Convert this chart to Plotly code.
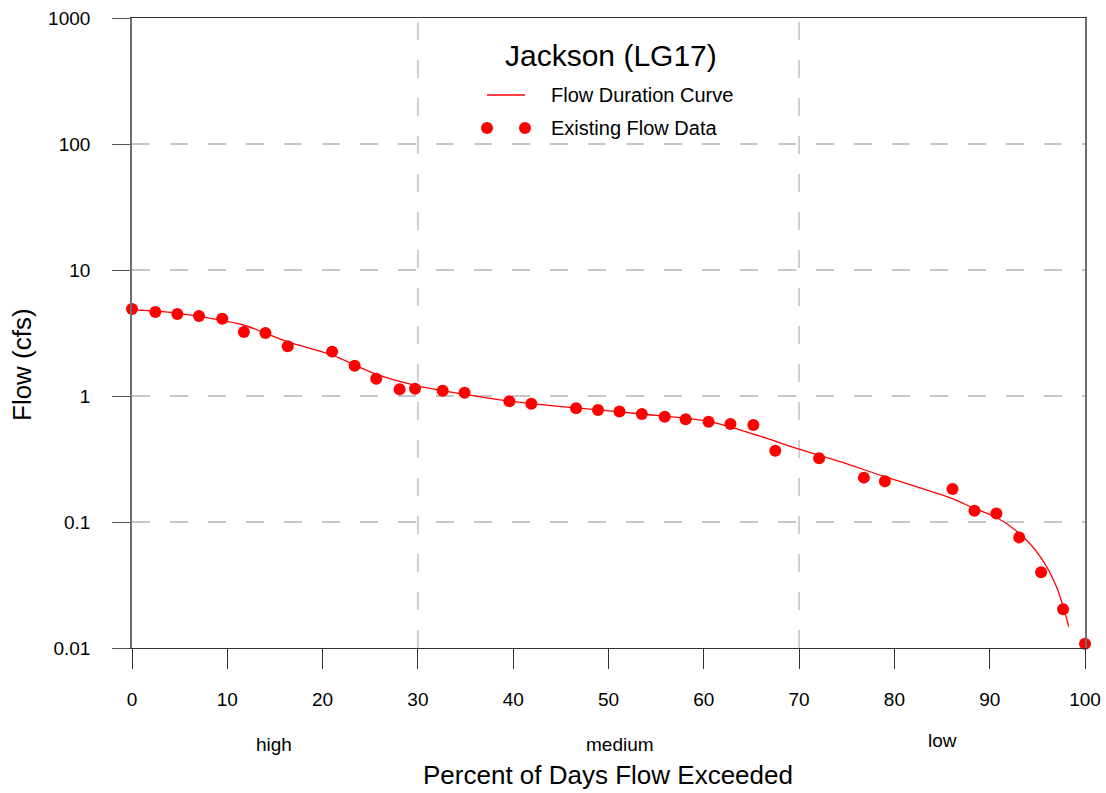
import plotly.graph_objects as go

# Observed daily-flow percentiles (percent of days exceeded) and flows (cfs)
OBS_PCT = [0.0, 2.45, 4.76, 7.03, 9.47, 11.74, 14.0, 16.34, 21.0, 23.36, 25.63,
           28.08, 29.7, 32.6, 34.9, 39.6, 41.9, 46.6, 48.9, 51.15, 53.5, 55.9,
           58.1, 60.5, 62.8, 65.2, 67.5, 72.1, 76.8, 79.0, 86.1, 88.4, 90.7,
           93.1, 95.4, 97.7, 100.0]
OBS_FLOW = [4.90, 4.64, 4.48, 4.32, 4.10, 3.22, 3.16, 2.48, 2.25, 1.74, 1.37,
            1.13, 1.14, 1.10, 1.06, 0.91, 0.868, 0.80, 0.775, 0.752, 0.72, 0.685,
            0.655, 0.625, 0.60, 0.589, 0.367, 0.320, 0.225, 0.211, 0.183, 0.123,
            0.117, 0.0755, 0.0400, 0.0203, 0.0108]

# Fitted flow duration curve
CURVE_PCT = [0, 3.5, 7.2, 11.7, 16.3, 21.0, 25.6, 30.2, 34.9, 39.6, 46.6, 53.5,
             60.5, 65.2, 70.0, 74.3, 79.0, 86.0, 88.4, 90.6, 93.1, 95.3, 97.0, 98.3]
CURVE_FLOW = [4.82, 4.65, 4.26, 3.66, 2.70, 2.11, 1.49, 1.19, 1.03, 0.912, 0.804,
              0.720, 0.628, 0.499, 0.379, 0.301, 0.229, 0.154, 0.128, 0.110,
              0.0813, 0.0531, 0.0307, 0.0148]

X_TICKS = [0, 10, 20, 30, 40, 50, 60, 70, 80, 90, 100]
Y_TICKS = [0.01, 0.1, 1, 10, 100, 1000]
Y_TICK_TEXT = ["0.01", "0.1", "1", "10", "100", "1000"]

# Flow regime boundaries and labels
REGIME_BOUNDS = [30, 70]
REGIME_LABELS = ["high", "medium", "low"]

TITLE = "Jackson (LG17)"
CURVE_NAME = "Flow Duration Curve"
OBS_NAME = "Existing Flow Data"

FONT = "Liberation Sans, Arial, sans-serif"
RED = "#ff0000"
GRID = "#c6c6c6"

W, H = 1106, 793
L, R, T, B = 132, 21, 18, 145


def px(xp):
    return (xp - L) / (W - L - R)


def py(yp):
    return (H - B - yp) / (H - T - B)


fig = go.Figure()

fig.add_trace(go.Scatter(
    x=CURVE_PCT, y=CURVE_FLOW, mode="lines",
    line=dict(color=RED, width=1.3, shape="spline", smoothing=0.8),
    name=CURVE_NAME, showlegend=False, hoverinfo="skip",
))
fig.add_trace(go.Scatter(
    x=OBS_PCT, y=OBS_FLOW, mode="markers",
    marker=dict(color=RED, size=12, line=dict(width=0)),
    name=OBS_NAME, showlegend=False, cliponaxis=False,
))

shapes = []
# regime boundary lines
for b in REGIME_BOUNDS:
    shapes.append(dict(type="line", xref="x", yref="paper", x0=b, x1=b, y0=0, y1=1,
                       line=dict(color=GRID, width=1.6, dash="18px,20px"), layer="below"))

# legend: line sample and two marker samples
shapes.append(dict(type="line", xref="paper", yref="paper",
                   x0=px(487), x1=px(525), y0=py(95), y1=py(95),
                   line=dict(color=RED, width=1.3)))
for cx in (487, 525):
    shapes.append(dict(type="circle", xref="paper", yref="paper",
                       xsizemode="pixel", ysizemode="pixel",
                       xanchor=px(cx), yanchor=py(128),
                       x0=-6, x1=6, y0=-6, y1=6,
                       fillcolor=RED, line=dict(width=0)))

annotations = [
    dict(text=TITLE, x=px(611), y=py(55), xref="paper", yref="paper",
         showarrow=False, font=dict(size=30, color="#000", family=FONT),
         xanchor="center", yanchor="middle"),
    dict(text=CURVE_NAME, x=px(549), y=py(95), xref="paper", yref="paper",
         showarrow=False, font=dict(size=20, color="#000", family=FONT),
         xanchor="left", yanchor="middle"),
    dict(text=OBS_NAME, x=px(549), y=py(128), xref="paper", yref="paper",
         showarrow=False, font=dict(size=20, color="#000", family=FONT),
         xanchor="left", yanchor="middle"),
    dict(text="Percent of Days Flow Exceeded", x=px(608), y=py(775),
         xref="paper", yref="paper", showarrow=False,
         font=dict(size=26, color="#000", family=FONT),
         xanchor="center", yanchor="middle"),
    dict(text="Flow (cfs)", x=px(22), y=py(365), xref="paper", yref="paper",
         showarrow=False, textangle=-90,
         font=dict(size=26, color="#000", family=FONT),
         xanchor="center", yanchor="middle"),
]

# regime labels centred in each band
label_pos = [(274, 745), (620, 745), (942, 740)]
for lab, (lx, ly) in zip(REGIME_LABELS, label_pos):
    annotations.append(dict(text=lab, x=px(lx), y=py(ly), xref="paper", yref="paper",
                            showarrow=False, font=dict(size=19, color="#000", family=FONT),
                            xanchor="center", yanchor="middle"))

fig.update_layout(
    width=W, height=H,
    margin=dict(l=L, r=R, t=T, b=B, pad=0, autoexpand=False),
    paper_bgcolor="white", plot_bgcolor="white",
    font=dict(family=FONT, color="#000"),
    shapes=shapes, annotations=annotations,
    showlegend=False,
)

fig.update_xaxes(
    range=[0, 100], tickvals=X_TICKS, ticktext=[str(v) for v in X_TICKS],
    showgrid=False, zeroline=False, automargin=False,
    showline=True, linecolor="#333", linewidth=1.3, mirror=True,
    ticks="outside", ticklen=20, tickcolor="#333", tickwidth=1.3,
    tickfont=dict(size=19, family=FONT, color="#000"),
    ticklabelstandoff=14,
)
fig.update_yaxes(
    type="log", range=[-2, 3], tickvals=Y_TICKS, ticktext=Y_TICK_TEXT,
    showgrid=True, gridcolor=GRID, gridwidth=1.6, griddash="18px,20px",
    zeroline=False, automargin=False,
    showline=True, linecolor="#6e6e6e", linewidth=1.6, mirror=True,
    ticks="outside", ticklen=18, tickcolor="#555", tickwidth=1.3,
    tickfont=dict(size=19, family=FONT, color="#000"),
    ticklabelstandoff=18,
)

fig.write_html("out.html")
